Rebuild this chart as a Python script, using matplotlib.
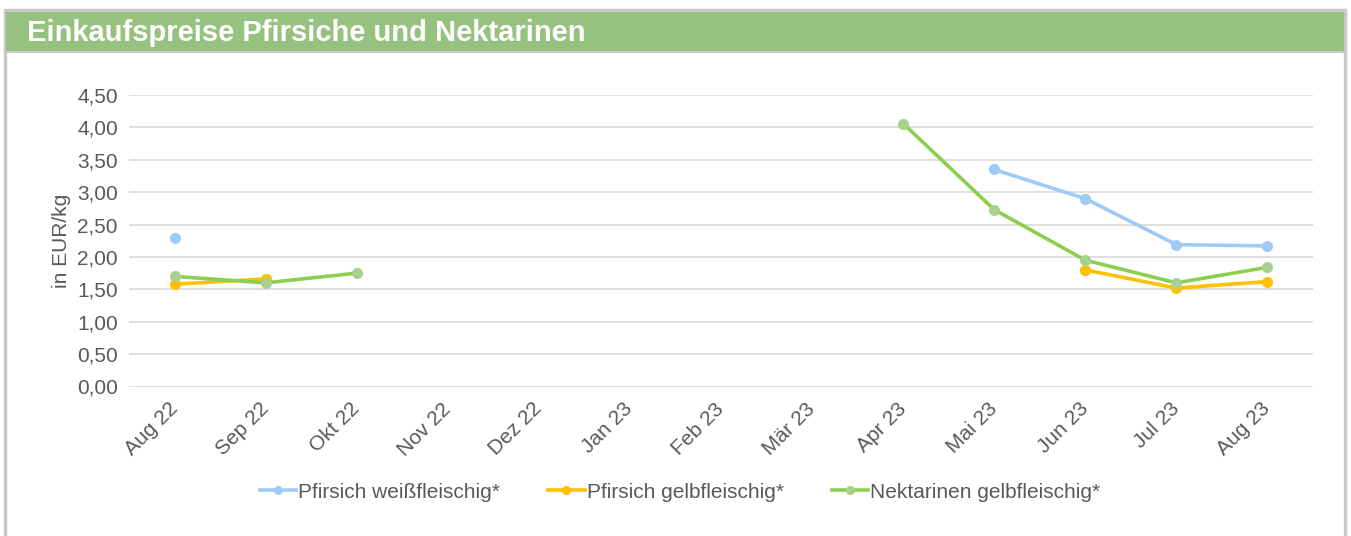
import numpy as np
import matplotlib.pyplot as plt
from matplotlib.patches import Rectangle
from matplotlib.lines import Line2D

plt.rcParams['font.family'] = ['Liberation Sans', 'DejaVu Sans']

# Daten
monate = ["Aug 22", "Sep 22", "Okt 22", "Nov 22", "Dez 22", "Jan 23", "Feb 23",
          "Mär 23", "Apr 23", "Mai 23", "Jun 23", "Jul 23", "Aug 23"]
nan = np.nan
pfirsich_weiss = [2.30, nan, nan, nan, nan, nan, nan, nan, nan, 3.35, 2.90, 2.19, 2.17]
pfirsich_gelb = [1.58, 1.66, nan, nan, nan, nan, nan, nan, nan, nan, 1.80, 1.52, 1.62]
nektarinen_gelb = [1.70, 1.60, 1.75, nan, nan, nan, nan, nan, 4.06, 2.73, 1.95, 1.60, 1.84]
y_ticks = [0, 0.5, 1, 1.5, 2, 2.5, 3, 3.5, 4, 4.5]

W, H = 1351, 536
fig = plt.figure(figsize=(W / 100, H / 100), dpi=100)

# Rahmen und Titelband
grau = '#c8c8c8'
fig.patches.append(Rectangle((5 / W, -0.05), (1345 - 5) / W, 1.05 - 10.5 / H, transform=fig.transFigure,
                             facecolor='white', edgecolor=grau, linewidth=2.5, zorder=0))
fig.patches.append(Rectangle((6 / W, 1 - 50.5 / H), (1344 - 6) / W, 38.5 / H, transform=fig.transFigure,
                             facecolor='#97c17f', edgecolor='none', zorder=1))
fig.patches.append(Rectangle((6 / W, 1 - 53 / H), (1344 - 6) / W, 2.5 / H, transform=fig.transFigure,
                             facecolor=grau, edgecolor='none', zorder=1))
fig.text(27 / W, 1 - 33 / H, "Einkaufspreise Pfirsiche und Nektarinen", color='white',
         fontsize=21, fontweight='bold', va='center', ha='left')

ax = fig.add_axes([129 / W, 1 - 386.5 / H, (1313 - 129) / W, (386.5 - 95) / H])
ax.set_zorder(5)
ax.patch.set_alpha(0)
x = np.arange(len(monate))

farben = ['#9dcbf5', '#ffc000', '#8ccf50']
marker_farben = ['#9dcbf5', '#ffc000', '#a9d18e']
namen = ["Pfirsich weißfleischig*", "Pfirsich gelbfleischig*", "Nektarinen gelbfleischig*"]
for werte, c, mc, n in zip([pfirsich_weiss, pfirsich_gelb, nektarinen_gelb], farben, marker_farben, namen):
    ax.plot(x, werte, color=c, linewidth=2.6, marker='o', markersize=7,
            markerfacecolor=mc, markeredgecolor=mc, label=n, zorder=3)

ax.set_xlim(-0.5, len(monate) - 0.5)
ax.set_ylim(0, 4.5)
ax.set_yticks(y_ticks)
ax.set_yticklabels([f"{v:.2f}".replace('.', ',') for v in y_ticks])
ax.set_xticks(x)
ax.set_xticklabels(monate, rotation=45, ha='right', va='center', rotation_mode='anchor')
ax.tick_params(length=0, labelsize=15, colors='#595959', pad=8)
ax.tick_params(axis='x', pad=14)
ax.grid(axis='y', color='#d9d9d9', linewidth=1.2)
ax.set_axisbelow(True)
for s in ax.spines.values():
    s.set_visible(False)
ax.set_ylabel("in EUR/kg", fontsize=15, color='#595959', labelpad=4)

handles = [Line2D([], [], color=c, linewidth=2.6, marker='o', markersize=5.5,
                  markerfacecolor=mc, markeredgecolor=mc) for c, mc in zip(farben, marker_farben)]
fig.legend(handles, namen, loc='center', bbox_to_anchor=(680 / W, 1 - 492 / H), ncol=3,
           frameon=False, fontsize=15, handlelength=1.75, handletextpad=0.1, columnspacing=2.3,
           labelcolor='#595959')

fig.savefig('out.png', dpi=100)
